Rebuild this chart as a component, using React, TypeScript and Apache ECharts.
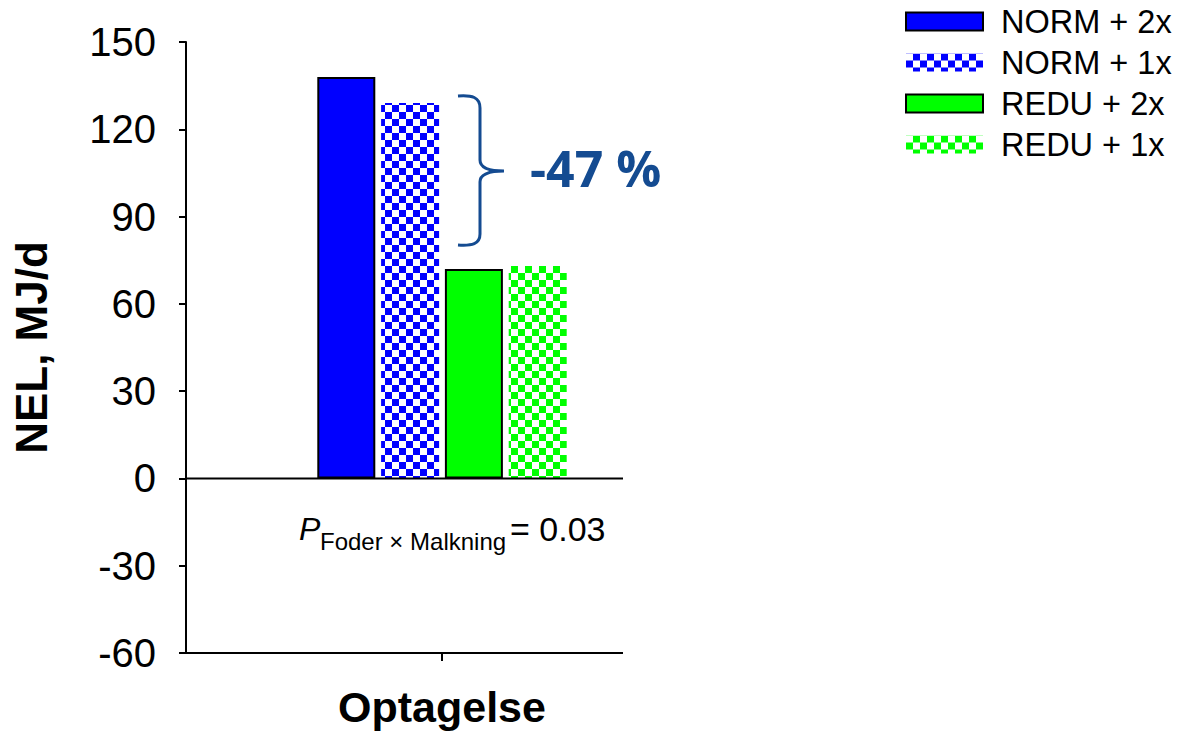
import React, { useEffect, useRef } from 'react';
import * as echarts from 'echarts';

// ---- data ----
const categories = ['Optagelse'];
const seriesNames = ['NORM + 2x', 'NORM + 1x', 'REDU + 2x', 'REDU + 1x'];
const normTwice = [138];
const normOnce = [129];
const reduTwice = [72];
const reduOnce = [73];
const yMin = -60;
const yMax = 150;
const yInterval = 30;
const yAxisTitle = 'NEL, MJ/d';
const diffLabel = '-47 %';
const pLabelMain = 'P';
const pLabelSub = 'Foder × Malkning';
const pLabelValue = '= 0.03';

const BLUE = '#0000ff';
const GREEN = '#00ff00';
const NAVY = '#144b91';
const FONT = '"Liberation Sans", Arial, sans-serif';

echarts.graphic.registerShape(
  'brace',
  echarts.graphic.extendPath(
    'M458 96 C472 95 480 97 480 108 L480 160 C480 168 488 171 504 171 M504 171 C488 171 480 174 480 182 L480 234 C480 244 472 246 458 245',
    {}
  )
);

const checker = (color: string) => ({
  symbol: 'rect',
  symbolSize: 1,
  dashArrayX: [[7, 7], [0, 7, 7, 0]],
  dashArrayY: [7, 0],
  color,
  rotation: 0,
});

export default function App() {
  const ref = useRef<HTMLDivElement>(null);
  useEffect(() => {
    const el = ref.current!;
    const chart = echarts.init(el, null, { renderer: 'svg' });
    const solid = (c: string) => ({ color: c, borderColor: '#000', borderWidth: 2 });
    const patterned = (c: string) => ({ color: '#ffffff', borderWidth: 0, decal: checker(c) });
    const styles = [solid(BLUE), patterned(BLUE), solid(GREEN), patterned(GREEN)];
    const datas = [normTwice, normOnce, reduTwice, reduOnce];
    chart.setOption({
      animation: false,
      textStyle: { fontFamily: FONT },
      grid: { left: 186, right: 482, top: 42, bottom: 80, containLabel: false },
      legend: {
        orient: 'vertical',
        left: 905,
        top: 5,
        padding: 0,
        itemWidth: 77,
        itemHeight: 18,
        itemGap: 8,
        icon: 'rect',
        textStyle: { fontSize: 32.5, color: '#000', fontFamily: FONT, lineHeight: 32, padding: [0, 0, 0, 13] },
        data: seriesNames.map((n, i) => ({ name: n, itemStyle: styles[i] })),
      },
      xAxis: {
        type: 'category',
        data: categories,
        axisLine: { show: false, onZero: false },
        axisTick: { show: true, alignWithLabel: true, length: 8, lineStyle: { color: '#000', width: 2 } },
        axisLabel: { fontSize: 43, fontWeight: 'bold', color: '#000', margin: 32, fontFamily: FONT },
      },
      yAxis: {
        type: 'value',
        min: yMin,
        max: yMax,
        interval: yInterval,
        name: yAxisTitle,
        nameLocation: 'middle',
        nameGap: 133,
        nameTextStyle: { fontSize: 44, fontWeight: 'bold', color: '#000', fontFamily: FONT },
        axisLine: { show: true, lineStyle: { color: '#000', width: 2 } },
        axisTick: { show: true, length: 7, lineStyle: { color: '#000', width: 2 } },
        axisLabel: { fontSize: 40, color: '#000', margin: 30, fontFamily: FONT },
        splitLine: { show: false },
      },
      series: seriesNames.map((n, i) => ({
        name: n,
        type: 'bar',
        data: datas[i],
        barWidth: 58,
        barGap: '10%',
        itemStyle: styles[i],
      })),
    });
    const yZero = chart.convertToPixel({ yAxisIndex: 0 }, 0) as number;
    const yBottom = chart.convertToPixel({ yAxisIndex: 0 }, yMin) as number;
    const xLeft = 186;
    const xRight = 623;
    chart.setOption({
      graphic: [
        { type: 'line', z: 100, shape: { x1: xLeft, y1: yZero, x2: xRight, y2: yZero }, style: { stroke: '#000', lineWidth: 2 } },
        { type: 'line', z: 100, shape: { x1: xLeft - 1, y1: yBottom, x2: xRight, y2: yBottom }, style: { stroke: '#000', lineWidth: 2 } },
        { type: 'brace', z: 100, x: 0, y: 0, style: { stroke: NAVY, lineWidth: 3, fill: 'none' } },
        {
          type: 'text', z: 100, x: 530, y: 168,
          style: { text: diffLabel, fill: NAVY, font: 'bold 50px "Open Sans", sans-serif', verticalAlign: 'middle', align: 'left' },
        },
        {
          type: 'text', z: 100, x: 299, y: 529,
          style: { text: pLabelMain, fill: '#000', font: `italic 32px ${FONT}`, verticalAlign: 'middle', align: 'left' },
        },
        {
          type: 'text', z: 100, x: 320, y: 541,
          style: { text: pLabelSub, fill: '#000', font: `24px ${FONT}`, verticalAlign: 'middle', align: 'left' },
        },
        {
          type: 'text', z: 100, x: 510, y: 529,
          style: { text: pLabelValue, fill: '#000', font: `34px ${FONT}`, verticalAlign: 'middle', align: 'left' },
        },
      ],
    });
    return () => chart.dispose();
  }, []);
  return <div ref={ref} style={{ position: 'absolute', left: 0, top: 0, width: 1180, height: 733 }} />;
}
